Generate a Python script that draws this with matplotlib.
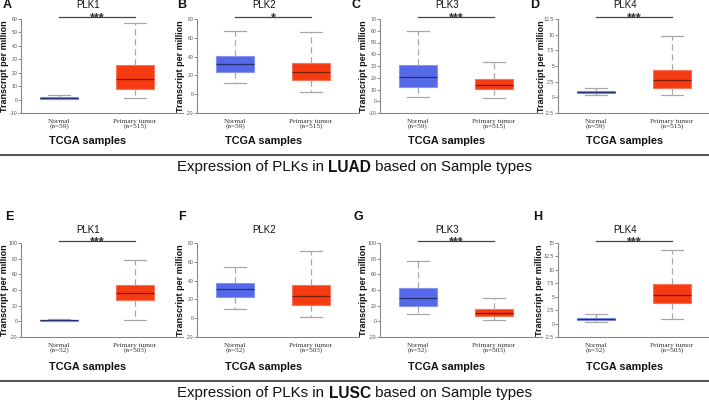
import matplotlib
matplotlib.use("Agg")
import matplotlib.pyplot as plt
from matplotlib.offsetbox import TextArea, HPacker, AnchoredOffsetbox

# ---------------- data ----------------
genes = ["PLK1", "PLK2", "PLK3", "PLK4"]
luad_letters = ["A", "B", "C", "D"]
lusc_letters = ["E", "F", "G", "H"]
luad_groups = ["Normal\n(n=59)", "Primary tumor\n(n=515)"]
lusc_groups = ["Normal\n(n=52)", "Primary tumor\n(n=503)"]

# [whisker low, q1, median, q3, whisker high]
luad_normal = [[0.3, 0.7, 1.2, 1.9, 3.1],
               [11.8, 23.8, 32.0, 41.1, 67.3],
               [3.9, 12.4, 20.3, 30.7, 60.1],
               [0.42, 0.63, 0.80, 0.95, 1.48]]
luad_tumor = [[1.3, 7.8, 15.5, 25.4, 57.3],
              [2.3, 15.0, 23.5, 33.4, 65.9],
              [2.5, 10.4, 14.1, 18.9, 33.3],
              [0.31, 1.53, 2.75, 4.34, 9.8]]
lusc_normal = [[0.2, 0.7, 1.3, 2.0, 3.4],
               [9.8, 22.6, 31.4, 37.1, 54.1],
               [9.4, 19.1, 29.8, 43.0, 76.6],
               [0.28, 0.6, 0.8, 1.0, 1.7]]
lusc_tumor = [[1.3, 26.6, 36.3, 46.8, 78.0],
              [0.9, 13.7, 23.3, 35.0, 71.1],
              [1.3, 6.8, 10.6, 15.3, 29.4],
              [0.8, 3.75, 5.3, 7.4, 13.7]]
luad_sig = ["***", "*", "***", "***"]
lusc_sig = ["***", "", "***", "***"]

luad_ylim = [(-10, 60), (-20, 80), (-10, 70), (-2.5, 12.5)]
luad_yticks = [[-10, 0, 10, 20, 30, 40, 50, 60],
               [-20, 0, 20, 40, 60, 80],
               [-10, 0, 10, 20, 30, 40, 50, 60, 70],
               [-2.5, 0, 2.5, 5, 7.5, 10, 12.5]]
lusc_ylim = [(-20, 100), (-20, 80), (-20, 100), (-2.5, 15)]
lusc_yticks = [[-20, 0, 20, 40, 60, 80, 100],
               [-20, 0, 20, 40, 60, 80],
               [-20, 0, 20, 40, 60, 80, 100],
               [-2.5, 0, 2.5, 5, 7.5, 10, 12.5, 15]]

cohorts = ["LUAD", "LUSC"]

# ---------------- style ----------------
W, H = 709, 400
fig = plt.figure(figsize=(W / 100, H / 100), dpi=100)
fig.patch.set_facecolor("white")

SANS = ["Liberation Sans", "DejaVu Sans"]
SERIF = ["Liberation Serif", "DejaVu Serif"]

fill_cols = ["#5468e8", "#f43b12"]
edge_cols = ["#8795f0", "#f7765a"]
med_cols = ["#27306e", "#7c1c08"]

ax_left = [21, 197, 380, 558]
ax_w, ax_h = 152, 94
row_top = [19, 243]
letter_pos = [[(3, 5), (177, 5), (352, 5), (530, 5)],
              [(5, 217), (178, 217), (354, 217), (533, 217)]]
title_y = [5, 230]
xlabel_y = [141, 367]
sep_y = [155, 381]
sect_y = [167, 393]


def fx(px):
    return px / W


def fy(py):
    return 1 - py / H


def fmt(v):
    if float(v).is_integer():
        return str(int(v))
    return str(v)


for r in range(2):
    normals = luad_normal if r == 0 else lusc_normal
    tumors = luad_tumor if r == 0 else lusc_tumor
    sigs = luad_sig if r == 0 else lusc_sig
    ylims = luad_ylim if r == 0 else lusc_ylim
    yticks = luad_yticks if r == 0 else lusc_yticks
    letters = luad_letters if r == 0 else lusc_letters
    groups = luad_groups if r == 0 else lusc_groups
    for c in range(4):
        left = ax_left[c]
        top = row_top[r]
        ax = fig.add_axes([fx(left), fy(top + ax_h), ax_w / W, ax_h / H])
        for i, vals in enumerate((normals[c], tumors[c])):
            lo, q1, med, q3, hi = vals
            st = dict(whislo=lo, q1=q1, med=med, q3=q3, whishi=hi, fliers=[])
            ax.bxp([st], positions=[i + 1], widths=0.5, patch_artist=True,
                   showfliers=False, manage_ticks=False,
                   boxprops=dict(facecolor=fill_cols[i], edgecolor=edge_cols[i], linewidth=0.8),
                   medianprops=dict(color=med_cols[i], linewidth=0.9),
                   whiskerprops=dict(color="#a8a8a8", linewidth=0.9, linestyle=(0, (5, 3))),
                   capprops=dict(color="#a8a8a8", linewidth=0.9),
                   capwidths=0.3, zorder=3)
        ax.set_xlim(0.5, 2.5)
        ax.set_ylim(*ylims[c])
        ax.set_yticks(yticks[c])
        labels = [fmt(v) for v in yticks[c]]
        ax.set_yticklabels(labels, fontsize=3.8, color="#555555", family=SANS)
        ax.set_xticks([1, 2])
        ax.set_xticklabels(groups, fontsize=5.2, family=SERIF, color="#333333",
                           linespacing=1.0)
        ax.tick_params(axis="x", length=0, pad=4)
        ax.tick_params(axis="y", length=2, width=0.6, color="#777777", pad=0.6)
        for s in ("top", "right"):
            ax.spines[s].set_visible(False)
        for s in ("left", "bottom"):
            ax.spines[s].set_color("#888888")
            ax.spines[s].set_linewidth(0.8)
        ax.spines["bottom"].set_bounds(0.5, 2.5 + 10 / 76.0)
        ax.set_facecolor("none")
        # y label
        off = 18.0 if max(len(s) for s in labels[1:-1]) >= 4 else 16.5
        ax.text(-off / ax_w, 0.5, "Transcript per million", rotation=90,
                ha="center", va="center", transform=ax.transAxes,
                fontsize=6.5, fontweight="bold", family=SANS, color="#111111")
        # significance bar
        if sigs[c]:
            ybar = ylims[c][1] + (ylims[c][1] - ylims[c][0]) * 0.025
            ax.plot([1, 2], [ybar, ybar], color="#444444", linewidth=0.9,
                    clip_on=False)
            ax.annotate(sigs[c], xy=(1.5, ybar), xytext=(0, -3.2),
                        textcoords="offset points", ha="center",
                        va="baseline", fontsize=9, fontweight="bold",
                        color="#333333", family=SANS, annotation_clip=False)
        # title
        cx = left + ax_w / 2 - 9
        fig.text(fx(cx), fy(title_y[r]), genes[c], ha="center", va="center",
                 fontsize=7, family=SANS, color="#111111")
        # x label
        fig.text(fx(cx), fy(xlabel_y[r]), "TCGA samples", ha="center",
                 va="center", fontsize=7.8, fontweight="bold", family=SANS,
                 color="#111111")
        # panel letter
        lx, ly = letter_pos[r][c]
        fig.text(fx(lx), fy(ly), letters[c], ha="left", va="center",
                 fontsize=9, fontweight="bold", family=SANS, color="#111111")

    # separator and section title
    fig.add_artist(plt.Line2D([0, 1], [fy(sep_y[r]), fy(sep_y[r])],
                              color="#555555", linewidth=1.5,
                              transform=fig.transFigure))
    pre = "Expression of PLKs in "
    post = " based on Sample types"
    a1 = TextArea(pre, textprops=dict(fontsize=10.8, family=SANS, color="#111111"))
    a2 = TextArea(cohorts[r], textprops=dict(fontsize=11.2, family=SANS,
                                             fontweight="bold", color="#111111"))
    a3 = TextArea(post, textprops=dict(fontsize=10.8, family=SANS, color="#111111"))
    box = HPacker(children=[a1, a2, a3], align="baseline", pad=0, sep=0)
    anc = AnchoredOffsetbox(loc="center", child=box, pad=0, frameon=False,
                            bbox_to_anchor=(0.5, fy(sect_y[r])),
                            bbox_transform=fig.transFigure, borderpad=0)
    fig.add_artist(anc)

fig.savefig("out.png", dpi=100, facecolor="white")
